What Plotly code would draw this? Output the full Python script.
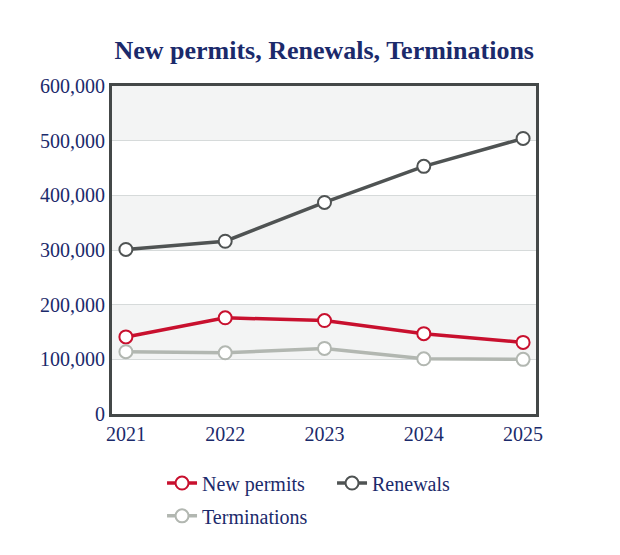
import plotly.graph_objects as go

years = ['2021', '2022', '2023', '2024', '2025']
new_permits = [141000, 176000, 171000, 147000, 131000]
renewals = [301000, 316000, 387000, 453000, 504000]
terminations = [114000, 112000, 120000, 101000, 100000]
y_ticks = [0, 100000, 200000, 300000, 400000, 500000, 600000]

navy = '#1b2a6b'
font_family = 'Liberation Serif, Times New Roman, serif'

fig = go.Figure()

# alternating background bands between gridlines
for i in range(len(y_ticks) - 1):
    if i % 2 == 1:
        fig.add_shape(type='rect', xref='paper', yref='y', x0=0, x1=1,
                      y0=y_ticks[i], y1=y_ticks[i + 1],
                      fillcolor='#f3f4f4', line_width=0, layer='below')

series = [
    ('New permits', new_permits, '#c8102e', 'legend'),
    ('Renewals', renewals, '#4f5353', 'legend'),
    ('Terminations', terminations, '#b2b7b1', 'legend2'),
]
for name, vals, color, leg in series:
    fig.add_trace(go.Scatter(
        x=years, y=vals, name=name, mode='lines+markers', legend=leg,
        line=dict(color=color, width=3.5),
        marker=dict(size=13, color='white', line=dict(color=color, width=2)),
    ))

leg_style = dict(orientation='h', xanchor='left', yanchor='top',
                 entrywidth=125, font=dict(size=20, color=navy),
                 bgcolor='rgba(0,0,0,0)')

fig.update_layout(
    width=620, height=555,
    margin=dict(l=104, r=92, t=78, b=149),
    paper_bgcolor='white', plot_bgcolor='white',
    title=dict(text='<b>New permits, Renewals, Terminations</b>',
               x=0.51, xanchor='center', y=0.924, yanchor='middle',
               font=dict(family=font_family, size=26, color=navy)),
    font=dict(family=font_family, size=20, color=navy),
    showlegend=True,
    legend=dict(x=0.118, y=-0.151, **leg_style),
    legend2=dict(x=0.118, y=-0.251, **leg_style),
)
fig.update_xaxes(range=[-0.14, 4.13], showgrid=False, showline=True, mirror=True,
                 linecolor='#444848', linewidth=3, ticks='', automargin=False,
                 tickfont=dict(size=20, color=navy))
fig.update_yaxes(range=[0, 600000], tickvals=y_ticks, tickformat=',d',
                 showgrid=True, gridcolor='#d6dada', gridwidth=1,
                 showline=True, mirror=True, linecolor='#444848', linewidth=3,
                 ticks='', zeroline=False, automargin=False,
                 tickfont=dict(size=20, color=navy))

fig.write_html('out.html')
